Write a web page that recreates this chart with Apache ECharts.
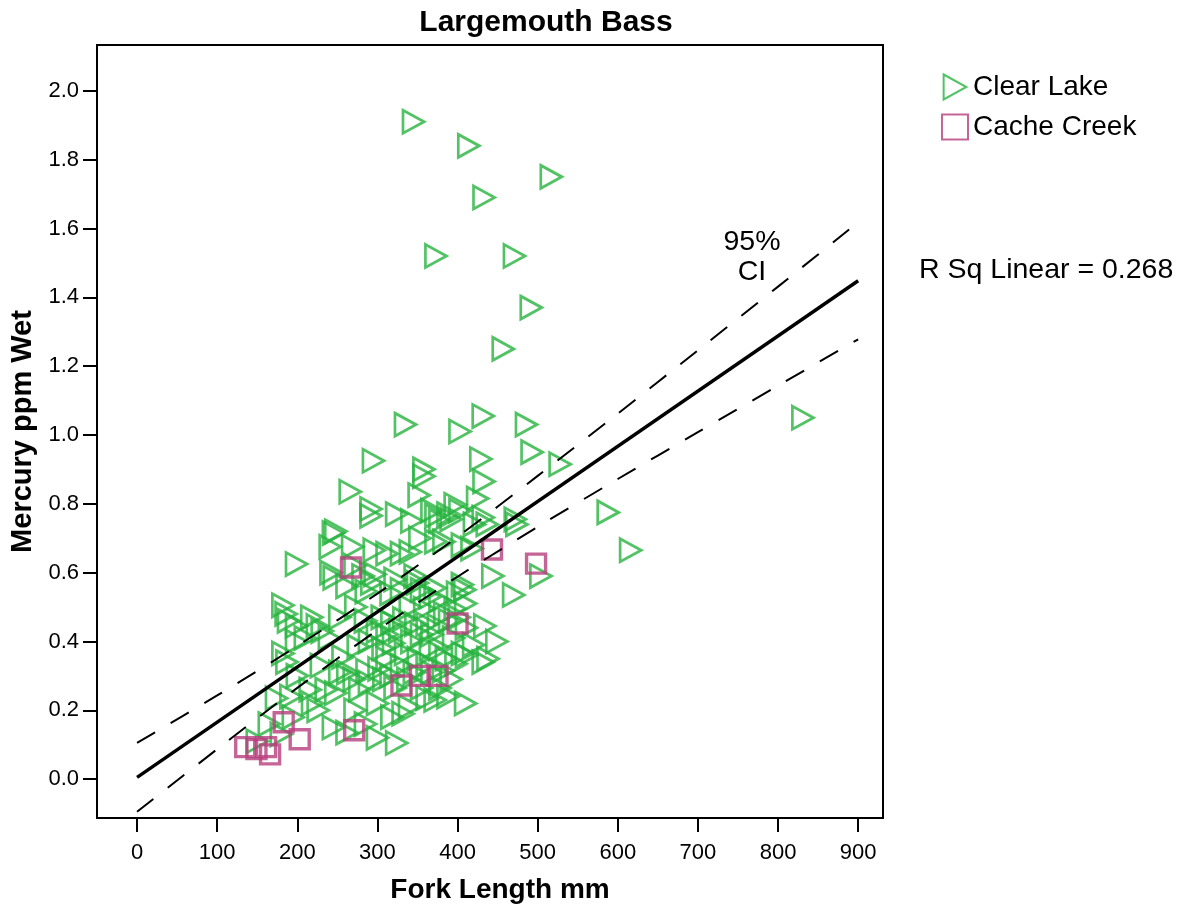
<!DOCTYPE html>
<html>
<head>
<meta charset="utf-8">
<script src="https://cdn.jsdelivr.net/npm/echarts@6/dist/echarts.min.js"></script>
<style>html,body{margin:0;padding:0;background:#fff;}#c{width:1183px;height:909px;}</style>
</head>
<body>
<div id="c"></div>
<script>
// ---- data ----
const xTicks = [0,100,200,300,400,500,600,700,800,900];
const yTicks = [0,0.2,0.4,0.6,0.8,1.0,1.2,1.4,1.6,1.8,2.0];

const clearLake = [
[345,1.91],[414,1.84],[517,1.75],[433,1.69],[373,1.52],[471,1.52],[492,1.37],[457,1.25],[831,1.05],[335,1.03],[403,1.01],[432,1.055],[486,1.03],[493,0.95],[528,0.915],[295,0.925],[358,0.90],[358,0.88],[429,0.93],[433,0.865],[266,0.835],[588,0.775],[616,0.665],
[352,0.825],[425,0.815],[397,0.797],[403,0.78],[292,0.785],[292,0.765],[324,0.77],[368,0.78],[373,0.765],[378,0.75],[388,0.77],[392,0.755],[432,0.76],[437,0.74],[421,0.74],[343,0.75],[472,0.755],[474,0.74],[245,0.715],[241,0.675],[269,0.675],[296,0.665],[353,0.70],[373,0.69],[383,0.69],[406,0.68],[418,0.67],[330,0.655],[312,0.655],[341,0.66],[248,0.72],
[199,0.625],[242,0.60],[246,0.585],[272,0.62],[282,0.59],[297,0.595],[293,0.57],[286,0.545],[317,0.54],[322,0.58],[347,0.59],[350,0.57],[366,0.53],[372,0.555],[378,0.52],[400,0.54],[406,0.565],[409,0.55],[444,0.59],[470,0.535],[504,0.59],[410,0.51],[341,0.50],[273,0.50],[182,0.505],[186,0.48],[359,0.495],[384,0.48],[397,0.495],[355,0.55],[330,0.55],[262,0.56],
[189,0.46],[199,0.445],[218,0.47],[225,0.445],[231,0.43],[253,0.47],[285,0.46],[306,0.47],[312,0.42],[320,0.395],[328,0.43],[333,0.465],[343,0.40],[362,0.45],[368,0.42],[376,0.445],[390,0.46],[402,0.47],[411,0.44],[434,0.445],[449,0.40],[411,0.36],[438,0.35],[432,0.34],[406,0.365],[386,0.35],[378,0.38],[351,0.35],[335,0.365],[312,0.35],[307,0.38],[276,0.385],[257,0.355],[182,0.365],[187,0.34],[210,0.41],[199,0.40],[240,0.41],[290,0.40],[300,0.43],[355,0.42],[395,0.41],[420,0.39],[348,0.45],[318,0.455],[366,0.38],
[263,0.31],[271,0.29],[278,0.26],[287,0.315],[302,0.32],[308,0.29],[317,0.30],[322,0.265],[330,0.33],[338,0.29],[346,0.31],[355,0.265],[362,0.335],[362,0.235],[368,0.31],[378,0.265],[382,0.315],[392,0.29],[398,0.335],[253,0.31],[236,0.26],[216,0.26],[219,0.22],[226,0.20],[192,0.24],[174,0.235],[272,0.20],[318,0.18],[332,0.19],[340,0.21],[300,0.22],[248,0.25],[290,0.28],[372,0.23],[388,0.24],[410,0.22],[200,0.30],[230,0.33],
[262,0.135],[300,0.12],[324,0.105],[180,0.13],[165,0.16],[195,0.18],[150,0.11],[245,0.15],[285,0.16]
];

const cacheCreek = [
[443,0.667],[498,0.626],[267,0.615],[400,0.452],[330,0.272],[353,0.30],[375,0.30],[271,0.142],[183,0.165],[203,0.116],[135,0.093],[149,0.087],[161,0.093],[166,0.072]
];

const fitX = [0,900];
const fitY = [0.005,1.448];
const ciX = [0,100,200,300,400,500,600,700,800,900];
const ciUpper = [0.105,0.243,0.387,0.539,0.704,0.881,1.062,1.246,1.431,1.618];
const ciLower = [-0.095,0.087,0.265,0.433,0.588,0.733,0.872,1.008,1.143,1.278];

// ---- chart ----
const FONT = '"Liberation Sans", Arial, sans-serif';
const GREEN = '#27b33f';
const PINK = '#b63f7d';
const pair = (xs, ys) => xs.map((x, i) => [x, ys[i]]);

const chart = echarts.init(document.getElementById('c'), null, {renderer: 'canvas'});
chart.setOption({
  animation: false,
  backgroundColor: '#fff',
  title: {
    text: 'Largemouth Bass', left: 541, top: 3, textAlign: 'center',
    textStyle: {fontFamily: FONT, fontSize: 30, fontWeight: 'bold', color: '#000'}
  },
  legend: {
    orient: 'vertical', left: 936, top: 68, itemGap: 12, itemWidth: 26, itemHeight: 25,
    textStyle: {fontFamily: FONT, fontSize: 28, color: '#000', padding: [0,0,0,0]},
    data: ['Clear Lake', 'Cache Creek']
  },
  grid: {left: 97, top: 45, width: 786, height: 775, show: true, borderColor: '#000', borderWidth: 2, backgroundColor: '#fff'},
  xAxis: {
    type: 'value', min: -50, max: 931,
    name: 'Fork Length mm', nameLocation: 'middle', nameGap: 58,
    nameTextStyle: {fontFamily: FONT, fontSize: 28, fontWeight: 'bold', color: '#000', padding: [0,0,0,20]},
    axisLine: {show: false, onZero: false},
    axisTick: {show: true, length: 14, inside: false, customValues: xTicks, lineStyle: {color: '#000', width: 2}},
    axisLabel: {customValues: xTicks, margin: 24, fontFamily: FONT, fontSize: 22, color: '#000'},
    splitLine: {show: false}
  },
  yAxis: {
    type: 'value', min: -0.113, max: 2.133,
    name: 'Mercury ppm Wet', nameLocation: 'middle', nameGap: 54,
    nameTextStyle: {fontFamily: FONT, fontSize: 29, fontWeight: 'bold', color: '#000'},
    axisLine: {show: false, onZero: false},
    axisTick: {show: true, length: 14, inside: false, customValues: yTicks, lineStyle: {color: '#000', width: 2}},
    axisLabel: {customValues: yTicks, margin: 18, fontFamily: FONT, fontSize: 22, color: '#000',
      formatter: v => v.toFixed(1)},
    splitLine: {show: false}
  },
  series: [
    {
      name: 'Clear Lake', type: 'scatter', data: clearLake, z: 3,
      symbol: 'path://M0,0L20,11L0,22Z', symbolSize: [21, 23],
      itemStyle: {color: 'rgba(0,0,0,0)', borderColor: GREEN, borderWidth: 2.8}
    },
    {
      name: 'Cache Creek', type: 'scatter', data: cacheCreek, z: 4,
      symbol: 'rect', symbolSize: [19, 19],
      itemStyle: {color: 'rgba(0,0,0,0)', borderColor: PINK, borderWidth: 3.4}
    },
    {
      name: 'fit', type: 'line', data: pair(fitX, fitY), showSymbol: false, symbol: 'none', z: 5,
      lineStyle: {color: '#000', width: 3.4}, silent: true
    },
    {
      name: 'ciU', type: 'line', data: pair(ciX, ciUpper), showSymbol: false, symbol: 'none', smooth: 0.3, z: 5,
      lineStyle: {color: '#000', width: 2, type: [21, 18]}, silent: true
    },
    {
      name: 'ciL', type: 'line', data: pair(ciX, ciLower), showSymbol: false, symbol: 'none', smooth: 0.3, z: 5,
      lineStyle: {color: '#000', width: 2, type: [21, 18]}, silent: true
    }
  ],
  graphic: [
    {type: 'text', x: 752, y: 242, style: {text: '95%', fontFamily: FONT, fontSize: 28.5, fill: '#000', align: 'center', verticalAlign: 'middle'}},
    {type: 'text', x: 752, y: 272, style: {text: 'CI', fontFamily: FONT, fontSize: 28.5, fill: '#000', align: 'center', verticalAlign: 'middle'}},
    {type: 'text', x: 919, y: 270, style: {text: 'R Sq Linear = 0.268', fontFamily: FONT, fontSize: 28.5, fill: '#000', align: 'left', verticalAlign: 'middle'}}
  ]
});
</script>
</body>
</html>
